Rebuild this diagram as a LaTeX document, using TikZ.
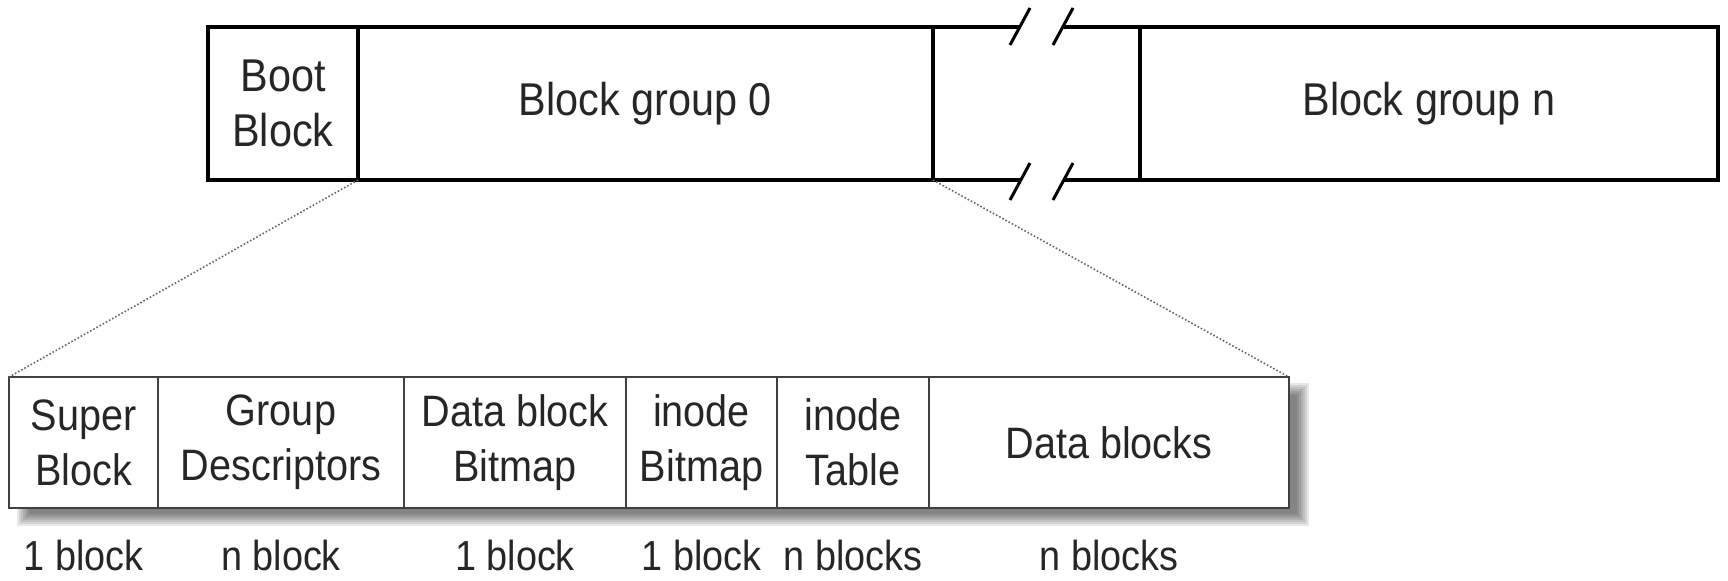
\documentclass[tikz,border=0pt]{standalone}
\usepackage{fontspec}
\setmainfont[FakeStretch=0.9]{Liberation Sans}
\usetikzlibrary{positioning}

\tikzset{
	cell/.style={draw, line width=1.6pt, inner sep=0pt, outer sep=0pt, minimum height=76.5pt,
		align=center, anchor=north west, text=black!85, font=\fontsize{23}{27.5}\selectfont},
	part/.style={draw=black!75, line width=1.2pt, fill=white, inner sep=0pt, outer sep=0pt,
		minimum height=65.5pt, align=center, anchor=north west, text=black!85,
		font=\fontsize{22}{27.5}\selectfont},
	size/.style={inner sep=0pt, text=black!85, font=\fontsize{21}{25}\selectfont},
	zoomline/.style={densely dotted, line width=0.8pt, black!60},
	breakmark/.style={line width=1.5pt},
}

\begin{document}
\begin{tikzpicture}[x=1pt, y=-1pt]
		\useasboundingbox (0,0) rectangle (864,290);
		
		%%%%% disk %%%%%
		\node[cell, minimum width=75pt] (boot) at (104,13.5) {Boot\\Block};
		\node[cell, minimum width=287.5pt] (bg0) at (boot.north east) {Block group 0};
		\node[cell, minimum width=103.5pt] (gap) at (bg0.north east) {};
		\node[cell, minimum width=289pt] (bgn) at (gap.north east) {Block group n};
		
		% break in the bar
		\fill[white] (505,22.5) -- (515,4) -- (536.5,4) -- (526.5,22.5) -- cycle;
		\fill[white] (505,100) -- (515,81.5) -- (536.5,81.5) -- (526.5,100) -- cycle;
		\draw[breakmark] (505,22.5) -- (515,4);
		\draw[breakmark] (526.5,22.5) -- (536.5,4);
		\draw[breakmark] (505,100) -- (515,81.5);
		\draw[breakmark] (526.5,100) -- (536.5,81.5);
		
		%%%%% block group %%%%%
		% soft shadow
		\foreach \r in {-3,...,3}
			\fill[black, opacity=0.09] (11.5-\r,194.5-\r) rectangle (651.5+\r,260+\r);
		
		\node[part, minimum width=74.5pt] (super) at (4.5,188.5) {Super\\Block};
		\node[part, minimum width=123pt] (groupdesc) at (super.north east) {Group\\Descriptors};
		\node[part, minimum width=111pt] (databitmap) at (groupdesc.north east) {Data block\\Bitmap};
		\node[part, minimum width=75.5pt] (inodebitmap) at (databitmap.north east) {inode\\Bitmap};
		\node[part, minimum width=76pt] (inodetable) at (inodebitmap.north east) {inode\\Table};
		\node[part, minimum width=180pt] (data) at (inodetable.north east) {Data blocks};
		
		% sizes
		\node[size, below=16pt of super] (superlbl) {1 block};
		\node[size, below=16pt of groupdesc] (grouplbl) {n block};
		\node[size, below=16pt of databitmap] (datalbl) {1 block};
		\node[size, below=16pt of inodebitmap] (inodelbl) {1 block};
		\node[size, below=16pt of inodetable] (tablelbl) {n blocks};
		\node[size, below=16pt of data] (blockslbl) {n blocks};
		
		% zoom
		\draw[zoomline] (boot.south east) -- (super.north west);
		\draw[zoomline] (bg0.south east) -- (data.north east);
		
	\end{tikzpicture}
\end{document}
